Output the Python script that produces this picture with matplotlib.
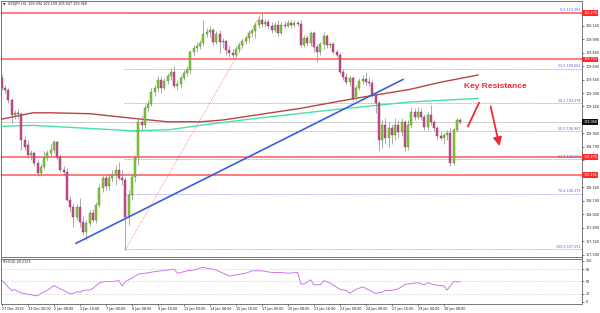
import matplotlib.pyplot as plt
import numpy as np

# USDJPY H4 candles, bar 0 = 27 Dec 2019 16:00
opens = [109.56, 109.45, 109.42, 109.31, 109.14, 109.17, 109.16, 108.87, 108.81, 108.70,
         108.72, 108.61, 108.50, 108.57, 108.67, 108.72, 108.76, 108.84, 108.68, 108.53,
         108.51, 108.20, 108.12, 108.01, 108.12, 107.96, 107.85, 107.95, 108.06, 107.98,
         108.15, 108.33, 108.45, 108.36, 108.45, 108.48, 108.53, 108.45, 108.42, 108.01,
         108.26, 108.46, 108.67, 109.07, 109.03, 109.22, 109.27, 109.40, 109.45, 109.53,
         109.45, 109.52, 109.58, 109.62, 109.47, 109.49, 109.56, 109.61, 109.65, 109.85,
         109.89, 109.91, 109.95, 110.05, 110.07, 110.09, 109.96, 110.05, 109.96, 109.97,
         109.87, 109.83, 109.81, 109.88, 109.92, 109.97, 110.00, 110.06, 110.08, 110.15,
         110.20, 110.16, 110.18, 110.13, 110.09, 110.15, 110.06, 110.15, 110.13, 110.17,
         110.15, 110.17, 110.16, 109.92, 110.00, 109.95, 110.06, 109.90, 109.85, 109.93,
         110.02, 109.92, 109.93, 109.85, 109.81, 109.62, 109.57, 109.51, 109.56, 109.32,
         109.45, 109.52, 109.55, 109.51, 109.50, 109.37, 109.28, 108.87, 109.03, 108.89,
         109.00, 108.92, 109.03, 108.96, 109.07, 108.79, 109.03, 109.18, 109.12, 109.18,
         109.12, 109.01, 109.15, 109.07, 109.00, 108.91, 108.89, 108.92, 108.95, 108.61,
         108.98, 109.094]
highs = [109.60, 109.48, 109.45, 109.33, 109.20, 109.21, 109.18, 108.91, 108.87, 108.76,
         108.75, 108.65, 108.60, 108.74, 108.76, 108.82, 108.87, 108.86, 108.71, 108.58,
         108.56, 108.25, 108.17, 108.16, 108.22, 108.02, 107.98, 108.09, 108.10, 108.18,
         108.38, 108.48, 108.49, 108.49, 108.53, 108.59, 108.62, 108.53, 108.46, 108.31,
         108.50, 108.70, 109.12, 109.15, 109.26, 109.31, 109.45, 109.48, 109.58, 109.58,
         109.56, 109.61, 109.67, 109.69, 109.53, 109.59, 109.65, 109.69, 109.87, 109.92,
         109.96, 109.98, 110.20, 110.11, 110.13, 110.11, 110.08, 110.09, 110.00, 109.98,
         109.91, 109.88, 109.91, 109.96, 110.00, 110.03, 110.09, 110.11, 110.18, 110.25,
         110.28, 110.21, 110.21, 110.18, 110.18, 110.20, 110.18, 110.19, 110.20, 110.20,
         110.20, 110.19, 110.20, 110.03, 110.03, 110.08, 110.08, 109.93, 109.96, 110.07,
         110.05, 109.96, 109.96, 109.88, 109.83, 109.66, 109.61, 109.58, 109.58, 109.48,
         109.56, 109.59, 109.62, 109.57, 109.53, 109.40, 109.31, 109.09, 109.11, 109.07,
         109.05, 109.11, 109.09, 109.11, 109.09, 109.09, 109.23, 109.22, 109.23, 109.22,
         109.16, 109.18, 109.26, 109.09, 109.02, 108.96, 108.95, 108.98, 109.00, 109.00,
         109.11, 109.109]
lows = [109.42, 109.39, 109.28, 109.06, 109.10, 109.11, 108.76, 108.76, 108.67, 108.65,
        108.58, 108.47, 108.47, 108.55, 108.63, 108.69, 108.72, 108.65, 108.51, 108.47,
        108.19, 108.07, 107.90, 107.98, 107.90, 107.81, 107.76, 107.91, 107.96, 107.95,
        108.12, 108.29, 108.31, 108.31, 108.40, 108.37, 108.42, 108.37, 107.65, 107.92,
        108.20, 108.40, 108.59, 108.98, 109.00, 109.18, 109.25, 109.36, 109.40, 109.39,
        109.42, 109.49, 109.53, 109.45, 109.42, 109.45, 109.53, 109.58, 109.60, 109.80,
        109.85, 109.88, 109.91, 110.01, 110.01, 109.92, 109.93, 109.83, 109.89, 109.81,
        109.79, 109.78, 109.79, 109.85, 109.89, 109.93, 109.96, 110.01, 110.00, 110.11,
        110.12, 110.12, 110.10, 110.06, 110.07, 110.02, 110.03, 110.11, 110.12, 110.11,
        110.12, 110.13, 109.90, 109.90, 109.91, 109.91, 109.85, 109.73, 109.81, 109.88,
        109.89, 109.89, 109.82, 109.79, 109.60, 109.53, 109.49, 109.47, 109.30, 109.31,
        109.42, 109.49, 109.48, 109.47, 109.35, 109.17, 108.74, 108.78, 108.82, 108.79,
        108.82, 108.87, 108.89, 108.91, 108.74, 108.76, 109.00, 109.09, 109.10, 109.09,
        108.98, 108.98, 109.03, 108.97, 108.87, 108.87, 108.82, 108.87, 108.58, 108.59,
        108.96, 109.047]
closes = [109.45, 109.42, 109.31, 109.14, 109.17, 109.16, 108.87, 108.79, 108.70, 108.72,
          108.61, 108.50, 108.57, 108.67, 108.72, 108.76, 108.84, 108.68, 108.53, 108.51,
          108.20, 108.12, 108.01, 108.12, 107.96, 107.85, 107.95, 108.06, 107.98, 108.15,
          108.33, 108.45, 108.36, 108.45, 108.48, 108.53, 108.45, 108.42, 108.01, 108.26,
          108.46, 108.67, 109.07, 109.03, 109.22, 109.27, 109.40, 109.45, 109.53, 109.45,
          109.52, 109.58, 109.62, 109.47, 109.49, 109.56, 109.61, 109.65, 109.85, 109.89,
          109.91, 109.95, 110.05, 110.07, 110.09, 109.96, 110.05, 109.96, 109.97, 109.87,
          109.83, 109.81, 109.88, 109.92, 109.97, 110.00, 110.06, 110.08, 110.15, 110.20,
          110.16, 110.18, 110.13, 110.09, 110.15, 110.06, 110.15, 110.13, 110.17, 110.15,
          110.17, 110.16, 109.92, 110.00, 109.95, 110.06, 109.90, 109.85, 109.93, 110.02,
          109.92, 109.93, 109.85, 109.81, 109.62, 109.57, 109.51, 109.56, 109.32, 109.45,
          109.52, 109.55, 109.51, 109.50, 109.37, 109.28, 108.87, 109.03, 108.89, 109.00,
          108.92, 109.03, 108.96, 109.07, 108.79, 109.03, 109.18, 109.12, 109.18, 109.12,
          109.01, 109.15, 109.07, 109.00, 108.91, 108.89, 108.92, 108.95, 108.61, 108.98,
          109.09, 109.068]

date_labels = ["27 Dec 2019", "31 Dec 00:00", "2 Jan 08:00", "3 Jan 16:00", "7 Jan 00:00",
               "8 Jan 08:00", "9 Jan 16:00", "13 Jan 00:00", "14 Jan 08:00", "15 Jan 16:00",
               "17 Jan 00:00", "20 Jan 08:00", "21 Jan 16:00", "23 Jan 00:00", "24 Jan 08:00",
               "27 Jan 16:00", "29 Jan 00:00", "30 Jan 08:00"]

# moving averages, read at a few bars
ma_red_bar = [0, 9.5, 15, 27, 40, 51, 61, 68, 79, 92, 104, 112, 125.5, 135, 146.5]
ma_red = [109.10, 109.17, 109.17, 109.16, 109.11, 109.07, 109.07, 109.09, 109.15, 109.22,
          109.30, 109.35, 109.43, 109.51, 109.59]
ma_green_bar = [0, 9.5, 20, 30, 40, 51, 61, 78.5, 101, 125.5, 146.5]
ma_green = [109.02, 109.03, 109.01, 108.99, 108.97, 108.98, 109.03, 109.11, 109.20, 109.29, 109.33]

# RSI(14)
rsi_bar = [0, 1, 2, 3, 4, 5, 6, 8, 10, 11, 12, 14, 16, 17, 18, 19, 20, 21, 22, 23, 24, 25, 26, 27,
           28, 30, 32, 34, 36, 37, 38, 40, 42, 44, 47, 51, 53, 54, 57, 59, 62, 63, 65, 67, 70,
           72, 75, 77, 80, 83, 86, 88, 91, 92, 93, 95, 96, 98, 99, 101, 104, 106, 107, 109,
           111, 113, 115, 117, 118, 120, 122, 124, 128, 130, 131, 133, 136, 137, 139, 141]
rsi_val = [52, 45, 35, 28, 30, 25, 22, 19, 16, 15, 21, 29, 40, 36, 31, 29, 23, 20, 21, 25, 24, 28,
           29, 29, 33, 47, 50, 50, 52, 39, 50, 58, 68, 70, 74, 78, 80, 70, 76, 78, 85, 82, 80, 74,
           63, 66, 70, 76, 76, 72, 72, 70, 72, 44, 44, 54, 42, 42, 52, 46, 31, 28, 21, 31, 37,
           29, 21, 24, 28, 28, 32, 43, 47, 42, 47, 42, 39, 29, 50, 49]

# drawn objects
red_levels = [110.276, 109.763, 108.676, 108.482]
fib_ratio = ["0.0", "23.6", "38.2", "50.0", "61.8", "76.4", "100.0"]
fib_price = [110.283, 109.662, 109.278, 108.967, 108.656, 108.272, 107.651]
fib_start = 37.5
fib_diag_bar = [38, 80]
fib_diag_price = [107.651, 110.283]
trend_bar = [22.8, 123.4]
trend_price = [107.72, 109.54]
last_price = 109.068

bull = '#86c93a'
bear = '#c9508e'

fig = plt.figure(figsize=(6, 3.13), dpi=100)
ax = fig.add_axes([1 / 600, 1 - 256.5 / 313, 581 / 600, 256 / 313])
rx = fig.add_axes([1 / 600, 1 - 303.5 / 313, 581 / 600, 45 / 313], sharex=ax)

o = np.array(opens)
c = np.array(closes)
bars = np.arange(len(c))
up = c >= o
ax.vlines(bars, lows, highs, color='#8c8c8c', lw=0.5, zorder=4)
ax.bar(bars, c - o, bottom=o, width=0.62, color=np.where(up, bull, bear),
       edgecolor=np.where(up, '#4f8a1c', '#8e2f60'), linewidth=0.3, zorder=5)

ax.axhline(last_price, color='#c8c8c8', lw=0.6, zorder=1)
for p in red_levels:
    ax.axhline(p, color='#ff4a4a', lw=1.2, alpha=0.85, zorder=2)
for r, p in zip(fib_ratio, fib_price):
    ax.hlines(p, fib_start, 178.5, color='#8a8aff', lw=0.6, linestyle=(0, (1, 1)), zorder=2)
    ax.text(178.0, p + 0.004, f"{r} {p:.3f}", fontsize=2.4, color='#5c5cff',
            ha='right', va='bottom', zorder=6)
ax.plot(fib_diag_bar, fib_diag_price, color='#ff6060', lw=0.5, linestyle=(0, (1, 1.2)), zorder=2)

ax.plot(ma_red_bar, ma_red, color='#b94444', lw=1.0, zorder=3)
ax.plot(ma_green_bar, ma_green, color='#45e3a6', lw=1.0, zorder=3)
ax.plot(trend_bar, trend_price, color='#3a5fd6', lw=1.2, zorder=6)

ax.text(151.7, 109.46, "Key Resistance", fontsize=6, fontweight='bold', color='#ee2a35',
        ha='center', va='center', family='Liberation Sans', zorder=7)
ax.plot([146.8, 143.4], [109.28, 109.02], color='#ee2a35', lw=1.3, zorder=7)
ax.annotate("", xy=(153.3, 108.77), xytext=(150.2, 109.27),
            arrowprops=dict(arrowstyle='-|>,head_length=0.5,head_width=0.25',
                            color='#ee2a35', lw=1.3), zorder=7)

ax.text(0.004, 0.993, "\u25bc  USDJPY,H4  109.094 109.109 109.047 109.068", transform=ax.transAxes,
        fontsize=2.4, color='#222222', ha='left', va='top')

ax.set_xlim(-0.3, 178.5)
ax.set_ylim(107.573, 110.418)
ax.yaxis.tick_right()
yt = np.arange(107.59, 110.30, 0.15)
boxed = red_levels + [last_price]
ax.set_yticks(yt)
ax.set_yticklabels(['' if min(abs(v - b) for b in boxed) < 0.04 else f"{v:.3f}" for v in yt])
ax.tick_params(axis='y', labelsize=2.4, length=1.5, width=0.4, pad=1, colors='#222222')
ax.tick_params(axis='x', bottom=False, labelbottom=False)

for p in red_levels:
    ax.text(1.002, p, f"{p:.3f}", transform=ax.get_yaxis_transform(), fontsize=2.4,
            color='white', ha='left', va='center', clip_on=False, zorder=10,
            bbox=dict(boxstyle='square,pad=0.25', fc='#ff2a2a', ec='none'))
ax.text(1.002, last_price, f"{last_price:.3f}", transform=ax.get_yaxis_transform(), fontsize=2.4,
        color='white', ha='left', va='center', clip_on=False, zorder=10,
        bbox=dict(boxstyle='square,pad=0.25', fc='#111111', ec='none'))

# RSI window
rx.plot(rsi_bar, rsi_val, color='#cc77ee', lw=0.7)
for lv in [20, 50, 80]:
    rx.axhline(lv, color='#b0b0b0', lw=0.4, linestyle=(0, (1, 1.5)))
rx.text(0.004, 0.97, "RSI(14) 49.2123", transform=rx.transAxes, fontsize=2.4,
        color='#222222', ha='left', va='top')
rx.set_ylim(-3.7, 106)
rx.yaxis.tick_right()
rx.set_yticks([0, 20, 50, 80, 100])
rx.tick_params(axis='y', labelsize=2.4, length=1.5, width=0.4, pad=1, colors='#222222')
rx.set_xticks(np.arange(0, 137, 8))
rx.set_xticklabels(date_labels, ha='left')
rx.tick_params(axis='x', labelsize=2.4, length=1.5, width=0.4, pad=1, colors='#222222')

for a in (ax, rx):
    for s in a.spines.values():
        s.set_color('#404040')
        s.set_linewidth(0.5)

fig.savefig('out.png', dpi=100)
